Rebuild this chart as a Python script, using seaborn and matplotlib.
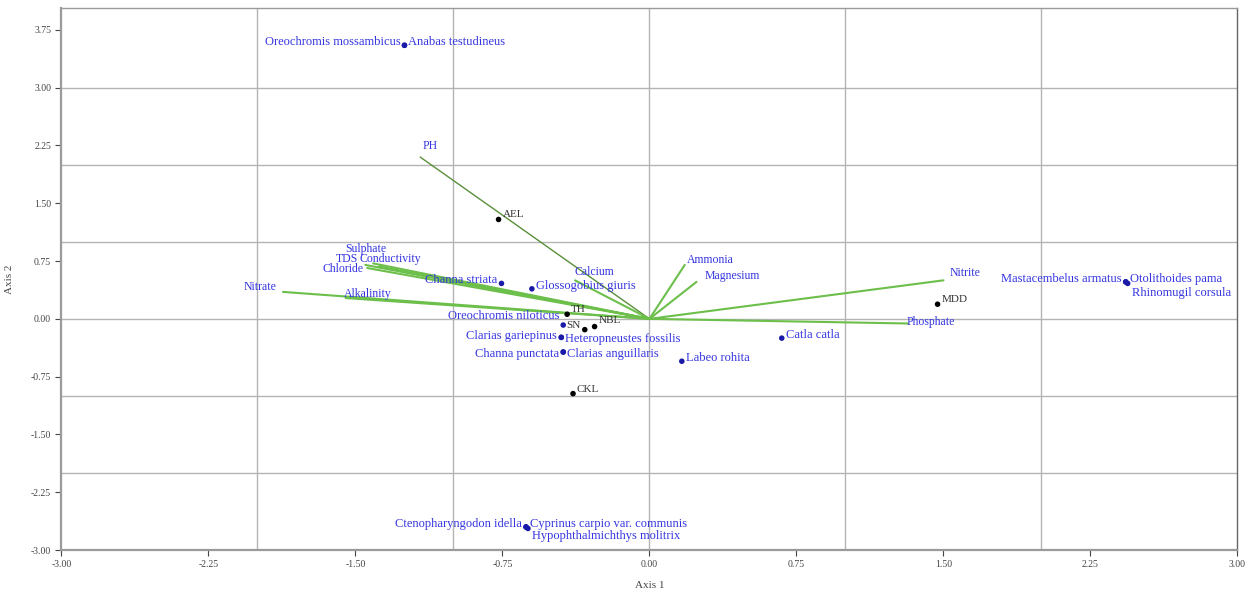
import numpy as np
import pandas as pd
import matplotlib
matplotlib.use("Agg")
import matplotlib.pyplot as plt
import seaborn as sns

# species scores (blue dots)
species = ["Anabas testudineus", "Oreochromis mossambicus", "Channa striata",
           "Glossogobius giuris", "Oreochromis niloticus", "Clarias gariepinus",
           "Heteropneustes fossilis", "Channa punctata", "Clarias anguillaris",
           "Labeo rohita", "Catla catla", "Mastacembelus armatus",
           "Otolithoides pama", "Rhinomugil corsula",
           "Ctenopharyngodon idella", "Cyprinus carpio var. communis",
           "Hypophthalmichthys molitrix"]
sp_x = [-1.25, -1.25, -0.755, -0.60, -0.44, -0.45, -0.45, -0.44, -0.44,
        0.165, 0.675, 2.43, 2.43, 2.44, -0.63, -0.63, -0.62]
sp_y = [3.55, 3.55, 0.46, 0.39, -0.08, -0.24, -0.24, -0.43, -0.43,
        -0.55, -0.25, 0.48, 0.48, 0.46, -2.70, -2.70, -2.72]
sp_side = ["r", "l", "l", "r", "l", "l", "r", "l", "r",
           "r", "r", "l", "r", "r", "l", "r", "r"]

# sites (black dots)
sites = ["AEL", "MDD", "CKL", "NBL", "SN", "TH"]
site_x = [-0.77, 1.47, -0.39, -0.28, -0.33, -0.42]
site_y = [1.29, 0.19, -0.97, -0.10, -0.14, 0.06]

# environmental variables (green vectors)
env = ["PH", "Sulphate", "TDS", "Conductivity", "Chloride", "Nitrate",
       "Alkalinity", "Calcium", "Ammonia", "Magnesium", "Nitrite", "Phosphate"]
env_x = [-1.17, -1.41, -1.45, -1.38, -1.44, -1.87, -1.55, -0.38, 0.18, 0.24, 1.50, 1.32]
env_y = [2.10, 0.72, 0.70, 0.68, 0.66, 0.35, 0.27, 0.50, 0.70, 0.48, 0.50, -0.06]
env_lab_x = [-1.16, -1.55, -1.60, -1.48, -1.67, -2.07, -1.56, -0.38, 0.19, 0.28, 1.53, 1.31]
env_lab_y = [2.16, 0.83, 0.70, 0.70, 0.57, 0.33, 0.24, 0.53, 0.68, 0.48, 0.52, -0.12]

sp_df = pd.DataFrame({"x": sp_x, "y": sp_y, "name": species, "side": sp_side})
site_df = pd.DataFrame({"x": site_x, "y": site_y, "name": sites})

# small label nudges to keep stacked names readable
nudge = {"Rhinomugil corsula": -0.16, "Hypophthalmichthys molitrix": -0.14,
         "Oreochromis niloticus": 0.08, "Clarias gariepinus": -0.02,
         "Heteropneustes fossilis": -0.06, "Channa punctata": -0.06,
         "Clarias anguillaris": -0.06}
site_nudge = {"NBL": 0.02}

sns.set_style("white")
plt.rcParams["font.family"] = ["Liberation Serif", "DejaVu Serif"]

fig = plt.figure(figsize=(12.55, 5.94), dpi=100)
ax = fig.add_axes([0.049, 0.074, 0.937, 0.912])

ax.set_xlim(-3, 3)
ax.set_ylim(-3, 4.03)

# integer grid
for g in range(-2, 3):
    ax.axvline(g, color="#b4b4b4", lw=1, zorder=0)
for g in range(-3, 4):
    ax.axhline(g, color="#b4b4b4", lw=1, zorder=0)

blue = "#3535e0"

# environmental vectors
for i, name in enumerate(env):
    c = "#5a8f3a" if name == "PH" else "#6cbf4a"
    lw = 1.0 if name == "PH" else 1.5
    ax.plot([0, env_x[i]], [0, env_y[i]], color=c, lw=lw, zorder=1)
    ax.text(env_lab_x[i], env_lab_y[i], name, color=blue, fontsize=8.5,
            ha="left", va="bottom", zorder=3)

sns.scatterplot(data=sp_df, x="x", y="y", color="#1a1aa8", s=16, edgecolor="none",
                ax=ax, zorder=4, legend=False)
sns.scatterplot(data=site_df, x="x", y="y", color="black", s=16, edgecolor="none",
                ax=ax, zorder=4, legend=False)

for _, r in sp_df.iterrows():
    dy = nudge.get(r["name"], 0) + 0.04
    if r["side"] == "r":
        ax.text(r["x"] + 0.02, r["y"] + dy, r["name"], color=blue, fontsize=9,
                ha="left", va="center", zorder=3)
    else:
        ax.text(r["x"] - 0.02, r["y"] + dy, r["name"], color=blue, fontsize=9,
                ha="right", va="center", zorder=3)

for _, r in site_df.iterrows():
    dy = site_nudge.get(r["name"], 0)
    if r["name"] == "SN":
        ax.text(r["x"] - 0.02, r["y"], r["name"], color="#333333", fontsize=8,
                ha="right", va="bottom", zorder=3)
    else:
        ax.text(r["x"] + 0.02, r["y"] + dy, r["name"], color="#333333", fontsize=8,
                ha="left", va="bottom", zorder=3)

ticks = np.arange(-3, 3.76, 0.75)
ax.set_yticks(ticks)
ax.set_yticklabels([f"{t:.2f}" for t in ticks])
xt = np.arange(-3, 3.01, 0.75)
ax.set_xticks(xt)
ax.set_xticklabels([f"{t:.2f}" for t in xt])
ax.tick_params(axis="both", labelsize=7, colors="#444444", length=4, direction="out")
ax.tick_params(axis="both", bottom=True, left=True)

for s in ax.spines.values():
    s.set_color("#9a9a9a")
    s.set_linewidth(1)
ax.spines["left"].set_linewidth(1.6)
ax.spines["bottom"].set_linewidth(1.6)
ax.spines["right"].set_color("#666666")

ax.set_xlabel("Axis 1", fontsize=8, color="#444444", labelpad=8)
ax.set_ylabel("Axis 2", fontsize=8, color="#444444", labelpad=12)

fig.savefig("out.png", dpi=100)
